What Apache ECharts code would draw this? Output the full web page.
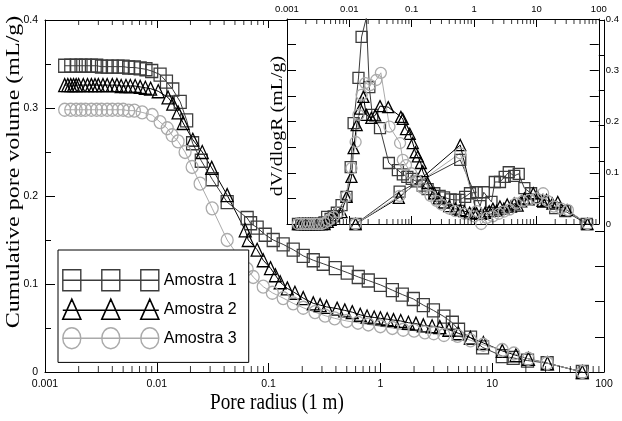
<!DOCTYPE html>
<html>
<head>
<meta charset="utf-8">
<script src="https://cdn.jsdelivr.net/npm/echarts@6/dist/echarts.min.js"></script>
<style>
  html, body { margin: 0; padding: 0; background: #fff; }
  #chart { width: 622px; height: 421px; }
</style>
</head>
<body>
<div id="chart"></div>
<script>
// tick labels
var decadeLabels = ['0.001', '0.01', '0.1', '1', '10', '100'];
var minorTickVals = [0.002, 0.003, 0.004, 0.005, 0.006, 0.007, 0.008, 0.009,
  0.02, 0.03, 0.04, 0.05, 0.06, 0.07, 0.08, 0.09,
  0.2, 0.3, 0.4, 0.5, 0.6, 0.7, 0.8, 0.9,
  2, 3, 4, 5, 6, 7, 8, 9,
  20, 30, 40, 50, 60, 70, 80, 90];
var seriesNames = ['Amostra 1', 'Amostra 2', 'Amostra 3'];

// cumulative pore volume (main plot)
var radius1 = [0.0015, 0.0017, 0.0019, 0.0021, 0.0023, 0.0026, 0.0029, 0.0032, 0.0036, 0.0040,
  0.0045, 0.0050, 0.0056, 0.0063, 0.0071, 0.0080, 0.0090, 0.0107, 0.0122, 0.0139,
  0.0162, 0.0185, 0.0209, 0.0250, 0.0313, 0.0426, 0.0643, 0.0690, 0.0790, 0.0933,
  0.110, 0.135, 0.166, 0.204, 0.251, 0.308, 0.395, 0.505, 0.634, 0.779,
  1.00, 1.28, 1.57, 1.97, 2.42, 2.98, 3.70, 4.40, 5.00, 6.40,
  8.20, 12.3, 15.4, 20.7, 31.0, 64.0];
var volume1 = [0.348, 0.348, 0.348, 0.348, 0.348, 0.348, 0.348, 0.347, 0.347, 0.347,
  0.347, 0.347, 0.346, 0.346, 0.345, 0.344, 0.342, 0.338, 0.330, 0.321,
  0.307, 0.286, 0.260, 0.240, 0.219, 0.193, 0.175, 0.169, 0.164, 0.156,
  0.150, 0.145, 0.139, 0.132, 0.127, 0.123, 0.118, 0.113, 0.108, 0.104,
  0.099, 0.093, 0.088, 0.083, 0.076, 0.070, 0.063, 0.056, 0.048, 0.039,
  0.028, 0.018, 0.016, 0.013, 0.010, 0.000];

var radius2 = [0.0015, 0.0016, 0.0017, 0.0018, 0.0019, 0.0020, 0.0022, 0.0024, 0.0026, 0.0028,
  0.0030, 0.0033, 0.0036, 0.0040, 0.0044, 0.0048, 0.0053, 0.0058, 0.0064, 0.0071,
  0.0079, 0.0088, 0.0103, 0.0126, 0.0139, 0.0155, 0.0172, 0.0210, 0.0255, 0.0310,
  0.0426, 0.0618, 0.0658, 0.0790, 0.0895, 0.104, 0.115, 0.127, 0.147, 0.172,
  0.204, 0.251, 0.289, 0.330, 0.410, 0.480, 0.560, 0.660, 0.760, 0.880,
  1.00, 1.15, 1.31, 1.52, 1.78, 2.08, 2.42, 2.90, 3.40, 4.10,
  4.98, 6.38, 8.34, 12.3, 16.3, 21.1, 31.2, 64.0];
var volume2 = [0.326, 0.326, 0.326, 0.326, 0.326, 0.326, 0.326, 0.326, 0.326, 0.326,
  0.326, 0.326, 0.326, 0.326, 0.326, 0.325, 0.325, 0.325, 0.325, 0.324,
  0.323, 0.322, 0.319, 0.312, 0.305, 0.295, 0.283, 0.264, 0.250, 0.232,
  0.201, 0.161, 0.150, 0.139, 0.127, 0.118, 0.110, 0.102, 0.095, 0.090,
  0.084, 0.078, 0.076, 0.074, 0.072, 0.070, 0.068, 0.065, 0.063, 0.062,
  0.061, 0.060, 0.059, 0.058, 0.056, 0.055, 0.053, 0.052, 0.051, 0.048,
  0.044, 0.039, 0.033, 0.024, 0.019, 0.015, 0.010, 0.000];

var radius3 = [0.0015, 0.0017, 0.0019, 0.0021, 0.0023, 0.0026, 0.0029, 0.0032, 0.0036, 0.0040,
  0.0045, 0.0050, 0.0056, 0.0063, 0.0074, 0.0091, 0.0107, 0.0124, 0.0137, 0.0155,
  0.0179, 0.0207, 0.0244, 0.0313, 0.0426, 0.0643, 0.0728, 0.0895, 0.108, 0.135,
  0.166, 0.204, 0.260, 0.320, 0.390, 0.500, 0.630, 0.780, 1.00, 1.28,
  1.60, 2.00, 2.50, 3.00, 3.70, 4.90, 6.40, 8.30, 12.3, 15.6,
  21.0, 31.0, 64.0];
var volume3 = [0.298, 0.298, 0.298, 0.298, 0.298, 0.298, 0.298, 0.298, 0.298, 0.298,
  0.298, 0.298, 0.297, 0.297, 0.295, 0.292, 0.284, 0.277, 0.269, 0.262,
  0.250, 0.233, 0.214, 0.186, 0.150, 0.117, 0.108, 0.097, 0.090, 0.084,
  0.078, 0.073, 0.068, 0.064, 0.061, 0.058, 0.056, 0.054, 0.052, 0.050,
  0.048, 0.047, 0.045, 0.044, 0.042, 0.041, 0.036, 0.031, 0.025, 0.021,
  0.015, 0.010, 0.000];

// dV/dlogR (inset), each sample drawn as two line pieces
var dRadius1a = [0.0015, 0.0017, 0.0019, 0.0021, 0.0023, 0.0026, 0.0029, 0.0032, 0.0036, 0.0040,
  0.0044, 0.0050, 0.0056, 0.0063, 0.0075, 0.0090, 0.0105, 0.0117, 0.0140, 0.0157,
  0.0187, 0.0209, 0.0233, 0.0310, 0.0430, 0.0600, 0.0720, 0.0850, 0.100, 0.120,
  0.150, 0.180, 0.230, 0.280, 0.330, 0.420, 0.500, 0.580, 0.720, 0.860, 1.10];
var dVol1a = [0, 0, 0, 0, 0, 0, 0, 0, 0, 0.003,
  0.014, 0.010, 0.015, 0.022, 0.037, 0.053, 0.111, 0.197, 0.285, 0.365,
  0.402, 0.267, 0.213, 0.187, 0.119, 0.105, 0.097, 0.092, 0.088, 0.083,
  0.075, 0.068, 0.060, 0.055, 0.052, 0.048, 0.047, 0.047, 0.053, 0.060, 0.062];
var dRadius1b = [0.0126, 0.064, 0.60, 1.25, 1.43, 1.90, 2.15, 2.60, 3.10, 3.60,
  4.40, 5.20, 6.40, 8.20, 12.8, 20.0, 29.0, 64.0];
var dVol1b = [0, 0.063, 0.125, 0.035, 0.062, 0.043, 0.082, 0.082, 0.092, 0.101,
  0.094, 0.098, 0.070, 0.060, 0.043, 0.031, 0.025, 0];

var dRadius2a = [0.0015, 0.0016, 0.0018, 0.0020, 0.0022, 0.0024, 0.0026, 0.0029, 0.0032, 0.0036,
  0.0040, 0.0045, 0.0050, 0.0056, 0.0075, 0.0090, 0.0108, 0.0117, 0.0131, 0.0150,
  0.0168, 0.0187, 0.0225, 0.0260, 0.0310, 0.0420, 0.0670, 0.0720, 0.0810, 0.0930,
  0.104, 0.115, 0.125, 0.140, 0.150, 0.180, 0.230, 0.270, 0.330, 0.400,
  0.500, 0.600, 0.700, 0.850, 1.00];
var dVol2a = [0, 0, 0, 0, 0, 0, 0, 0, 0, 0,
  0, 0.004, 0.008, 0.017, 0.023, 0.053, 0.092, 0.148, 0.193, 0.225,
  0.248, 0.213, 0.207, 0.212, 0.230, 0.228, 0.209, 0.205, 0.185, 0.176,
  0.158, 0.140, 0.132, 0.119, 0.103, 0.080, 0.060, 0.050, 0.042, 0.035,
  0.030, 0.027, 0.025, 0.022, 0.021];
var dRadius2b = [0.0126, 0.062, 0.60, 1.10, 1.30, 1.50, 1.75, 2.00, 2.30, 2.60,
  3.00, 3.40, 3.90, 4.40, 5.00, 5.70, 6.40, 7.50, 8.90, 10.5,
  12.5, 14.5, 18.0, 22.0, 31.0, 66.0];
var dVol2b = [0, 0.051, 0.154, 0.021, 0.020, 0.022, 0.025, 0.030, 0.026, 0.034,
  0.030, 0.038, 0.034, 0.040, 0.036, 0.044, 0.050, 0.048, 0.060, 0.052,
  0.045, 0.047, 0.040, 0.043, 0.027, 0];

var dRadius3a = [0.0015, 0.0017, 0.0019, 0.0021, 0.0023, 0.0026, 0.0029, 0.0032, 0.0036, 0.0040,
  0.0045, 0.0050, 0.0056, 0.0068, 0.0087, 0.0108, 0.0126, 0.0140, 0.0157, 0.0180,
  0.0215, 0.0270, 0.0320, 0.0440, 0.0650, 0.0720, 0.0810, 0.0980, 0.120, 0.150,
  0.200, 0.250, 0.300, 0.400, 0.500, 0.700, 1.00];
var dVol3a = [0, 0, 0, 0, 0, 0, 0, 0, 0, 0.002,
  0.006, 0.010, 0.014, 0.023, 0.053, 0.109, 0.160, 0.213, 0.252, 0.275,
  0.271, 0.281, 0.295, 0.190, 0.158, 0.125, 0.115, 0.099, 0.085, 0.070,
  0.055, 0.045, 0.038, 0.030, 0.025, 0.020, 0.015];
var dRadius3b = [0.0126, 0.064, 0.60, 1.10, 1.30, 1.60, 2.00, 2.50, 3.00, 3.70,
  4.70, 6.00, 7.70, 10.0, 12.8, 15.0, 19.0, 25.0, 32.0, 66.0];
var dVol3b = [0, 0.055, 0.138, 0.025, 0.000, 0.012, 0.015, 0.020, 0.024, 0.028,
  0.040, 0.044, 0.047, 0.050, 0.060, 0.045, 0.034, 0.030, 0.027, 0];

var sans = "'Liberation Sans', Arial, sans-serif";
var serif = "'Liberation Serif', 'Times New Roman', serif";

var styles = [
  { symbol: 'rect', color: '#3c3c3c', width: 1.3 },
  { symbol: 'triangle', color: '#000', width: 1.3 },
  { symbol: 'circle', color: '#aaaaaa', width: 1.3 }
];

function pairs(xs, ys) {
  return xs.map(function (x, i) { return [x, ys[i]]; });
}

function lineSeries(idx, data, xi, yi, size) {
  var s = styles[idx];
  return {
    name: seriesNames[idx],
    type: 'line',
    xAxisIndex: xi,
    yAxisIndex: yi,
    data: data,
    symbol: s.symbol,
    symbolSize: size,
    showAllSymbol: true,
    silent: true,
    itemStyle: { color: 'transparent', borderColor: s.color, borderWidth: s.width },
    lineStyle: { color: s.color, width: 1 },
    emphasis: { disabled: true }
  };
}

// minor log ticks (2..9 of each decade) drawn as short marks on an edge
function minorTicks(xi, yi, edgeValue, len, dir, vals) {
  return {
    type: 'scatter',
    xAxisIndex: xi,
    yAxisIndex: yi,
    silent: true,
    clip: false,
    z: 3,
    symbol: 'rect',
    symbolSize: [1, len],
    symbolOffset: [0, dir * len / 2],
    itemStyle: { color: '#000' },
    data: vals.map(function (v) { return [v, edgeValue]; })
  };
}

function logAxis(grid, pos, showLabel, len) {
  return {
    gridIndex: grid, type: 'log', logBase: 10, min: 0.001, max: 100, position: pos,
    z: grid === 1 ? 3 : 0,
    axisLine: { onZero: false, lineStyle: { color: '#000', width: 1 } },
    axisTick: { inside: true, length: len, lineStyle: { color: '#000' } },
    axisLabel: {
      show: showLabel, margin: grid === 1 ? 5 : 7, color: '#000',
      fontFamily: sans, fontSize: grid === 1 ? 9.5 : 10.5,
      formatter: function (v) { return decadeLabels[Math.round(Math.log10(v)) + 3]; }
    },
    splitLine: { show: false }
  };
}

function valueAxis(grid, pos, interval, len, label) {
  return {
    gridIndex: grid, type: 'value', min: 0, max: 0.4, interval: interval, position: pos,
    z: grid === 1 ? 3 : 0,
    axisLine: { onZero: false, lineStyle: { color: '#000', width: 1 } },
    axisTick: { inside: true, length: len, lineStyle: { color: '#000' } },
    axisLabel: label ? {
      show: true, margin: 7, color: '#000', fontFamily: sans, fontSize: label
    } : { show: false },
    splitLine: { show: false }
  };
}

var myChart = echarts.init(document.getElementById('chart'), null, { renderer: 'canvas' });

var leftY = valueAxis(0, 'left', 0.1, 10, 10.5);
leftY.minorTick = { show: true, splitNumber: 2, length: 6, lineStyle: { color: '#000' } };
var insetRightY = valueAxis(1, 'right', 0.1, 9, 9.5);
insetRightY.minorTick = { show: true, splitNumber: 2, length: 9, lineStyle: { color: '#000' } };

var leftOfInset = minorTickVals.filter(function (v) { return v < 0.14; });

var option = {
  animation: false,
  grid: [
    { left: 45, top: 20, width: 559, height: 352 },
    { left: 287, top: 19, width: 316, height: 205, show: true, backgroundColor: '#fff', borderWidth: 0, z: 1 }
  ],
  xAxis: [
    logAxis(0, 'bottom', true, 9),
    logAxis(0, 'top', false, 8),
    logAxis(1, 'bottom', false, 8),
    logAxis(1, 'top', true, 8)
  ],
  yAxis: [
    leftY,
    valueAxis(0, 'right', 0.04, 9, 0),
    valueAxis(1, 'left', 0.05, 9, 0),
    insetRightY
  ],
  legend: {
    orient: 'vertical',
    left: 58, top: 250,
    itemWidth: 96, itemHeight: 21, itemGap: 7,
    padding: [19, 12, 13, 4],
    borderColor: '#000', borderWidth: 1, backgroundColor: '#fff',
    textStyle: { color: '#000', fontFamily: sans, fontSize: 16 },
    data: [
      { name: 'Amostra 1', icon: 'path://M0,0H18V21H0ZM39,0H57V21H39ZM78,0H96V21H78ZM0,10.5H96',
        itemStyle: { color: 'transparent', borderColor: '#3c3c3c', borderWidth: 1.4 } },
      { name: 'Amostra 2', icon: 'path://M0,21L9,1L18,21ZM39,21L48,1L57,21ZM78,21L87,1L96,21ZM0,12H96',
        itemStyle: { color: 'transparent', borderColor: '#000', borderWidth: 1.6 } },
      { name: 'Amostra 3', icon: 'path://M0,10.5A9,10.5 0 1 0 18,10.5A9,10.5 0 1 0 0,10.5ZM39,10.5A9,10.5 0 1 0 57,10.5A9,10.5 0 1 0 39,10.5ZM78,10.5A9,10.5 0 1 0 96,10.5A9,10.5 0 1 0 78,10.5ZM0,10.5H96',
        itemStyle: { color: 'transparent', borderColor: '#aaaaaa', borderWidth: 1.4 } }
    ]
  },
  graphic: [
    { type: 'text', x: 277, y: 403, scaleX: 0.8,
      style: { text: 'Pore radius (1 m)', font: '24px ' + serif, fill: '#000', align: 'center', verticalAlign: 'middle' } },
    { type: 'text', x: 14, y: 172, rotation: Math.PI / 2, scaleY: 0.8,
      style: { text: 'Cumulative pore volume (mL/g)', font: '24px ' + serif, fill: '#000', align: 'center', verticalAlign: 'middle' } },
    { type: 'text', x: 278, y: 126, rotation: Math.PI / 2, scaleY: 0.8, z: 5,
      style: { text: 'dV/dlogR (mL/g)', font: '20px ' + serif, fill: '#000', align: 'center', verticalAlign: 'middle' } }
  ],
  series: [
    lineSeries(0, pairs(radius1, volume1), 0, 0, [12, 13]),
    lineSeries(1, pairs(radius2, volume2), 0, 0, [12, 13]),
    lineSeries(2, pairs(radius3, volume3), 0, 0, [12, 13]),
    lineSeries(0, pairs(dRadius1a, dVol1a), 2, 2, 11),
    lineSeries(0, pairs(dRadius1b, dVol1b), 2, 2, 11),
    lineSeries(1, pairs(dRadius2a, dVol2a), 2, 2, 11),
    lineSeries(1, pairs(dRadius2b, dVol2b), 2, 2, 11),
    lineSeries(2, pairs(dRadius3a, dVol3a), 2, 2, 11),
    lineSeries(2, pairs(dRadius3b, dVol3b), 2, 2, 11),
    minorTicks(0, 0, 0, 6, -1, minorTickVals),
    minorTicks(0, 0, 0.4, 5, 1, leftOfInset),
    minorTicks(2, 2, 0, 5, -1, minorTickVals),
    minorTicks(2, 2, 0.4, 5, 1, minorTickVals)
  ]
};

myChart.setOption(option);
</script>
</body>
</html>
